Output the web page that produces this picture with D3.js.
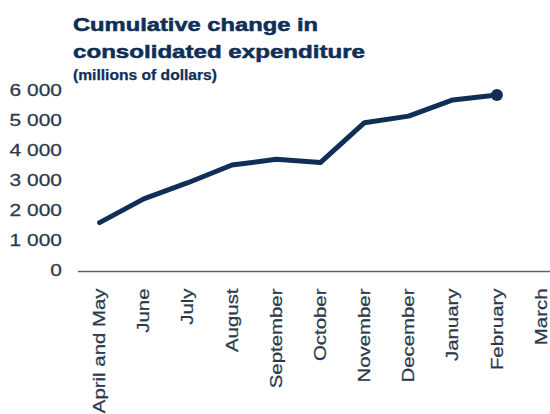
<!DOCTYPE html>
<html>
<head>
<meta charset="utf-8">
<script src="https://cdn.jsdelivr.net/npm/d3@7"></script>
<style>
  html, body { margin: 0; padding: 0; background: #fff; }
  svg { display: block; }
  text { font-family: "Liberation Sans", Arial, sans-serif; }
</style>
</head>
<body>
<svg id="chart" width="550" height="414"></svg>
<script>
// Months of the fiscal year
const months = ["April and May", "June", "July", "August", "September", "October",
                "November", "December", "January", "February", "March"];
// Cumulative change in consolidated expenditure, millions of dollars (no March value yet)
const cumulativeChange = [1630, 2420, 2960, 3550, 3740, 3630, 4960, 5180, 5720, 5880];
// Value axis ticks
const yTicks = [0, 1000, 2000, 3000, 4000, 5000, 6000];
const titleLines = ["Cumulative change in", "consolidated expenditure"];
const unitsLabel = "(millions of dollars)";

const navy = "#0f2f57";
const textColor = "#2c3a4c";
const svg = d3.select("#chart");

const x = d3.scaleBand().domain(months).range([77.5, 77.5 + 11 * 44.15]).padding(0);
const y = d3.scaleLinear().domain([0, 6000]).range([271.5, 91.5]);
const cx = d => x(d) + x.bandwidth() / 2;

// Title block: heavy, wide lettering
const titleWidths = [245, 292];
const title = svg.append("g");
titleLines.forEach((t, i) => {
  title.append("text")
    .attr("x", 73).attr("y", 31 + i * 26.5)
    .attr("textLength", titleWidths[i]).attr("lengthAdjust", "spacingAndGlyphs")
    .attr("font-size", 19).attr("font-weight", "bold")
    .attr("fill", navy).attr("stroke", navy).attr("stroke-width", 0.55)
    .attr("stroke-linejoin", "round")
    .text(t);
});
title.append("text")
  .attr("x", 73).attr("y", 80)
  .attr("textLength", 144).attr("lengthAdjust", "spacingAndGlyphs")
  .attr("font-size", 14).attr("font-weight", "bold")
  .attr("fill", navy).attr("stroke", navy).attr("stroke-width", 0.25)
  .text(unitsLabel);

// Value axis labels
svg.append("g").selectAll("text").data(yTicks).join("text")
  .attr("transform", d => `translate(62,${y(d) + 4.9}) scale(1.27,1)`)
  .attr("text-anchor", "end")
  .attr("font-size", 16.5)
  .attr("fill", textColor)
  .attr("stroke", textColor).attr("stroke-width", 0.25)
  .text(d => d3.format(",")(d).replace(/,/g, "\u00a0"));

// Baseline
svg.append("line")
  .attr("x1", 78).attr("x2", 550)
  .attr("y1", y(0)).attr("y2", y(0))
  .attr("stroke", "#5a6470").attr("stroke-width", 1.6);

// Month labels, rotated
svg.append("g").selectAll("text").data(months).join("text")
  .attr("transform", d => `translate(${cx(d) + 5.6},288.5) rotate(-90) scale(1.2,1)`)
  .attr("text-anchor", "end")
  .attr("font-size", 17)
  .attr("fill", textColor)
  .attr("stroke", textColor).attr("stroke-width", 0.25)
  .text(d => d);

// Cumulative line
const points = cumulativeChange.map((v, i) => ({ m: months[i], v }));
svg.append("path")
  .datum(points)
  .attr("fill", "none")
  .attr("stroke", navy)
  .attr("stroke-width", 5)
  .attr("stroke-linejoin", "round")
  .attr("stroke-linecap", "round")
  .attr("d", d3.line().x(d => cx(d.m)).y(d => y(d.v)));

// Marker on the latest month
const last = points[points.length - 1];
svg.append("circle")
  .attr("cx", cx(last.m)).attr("cy", y(last.v))
  .attr("r", 6).attr("fill", navy);
</script>
</body>
</html>
